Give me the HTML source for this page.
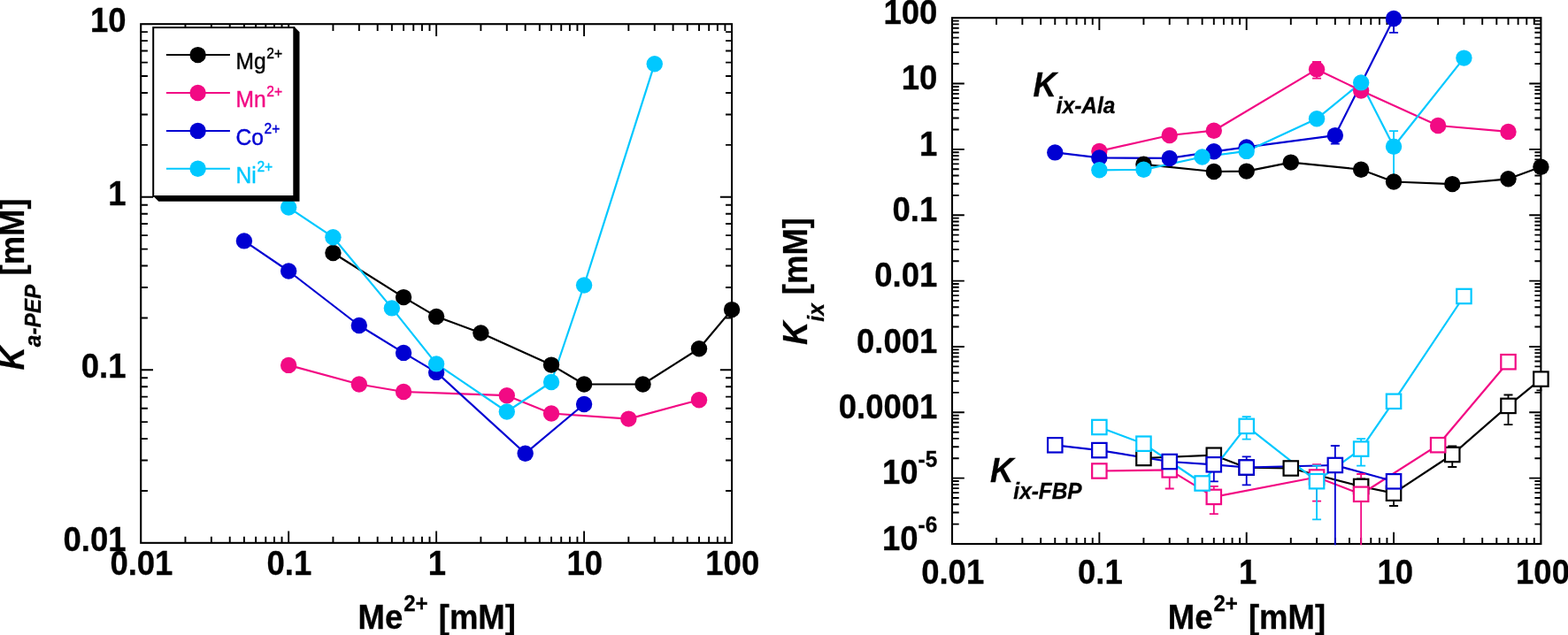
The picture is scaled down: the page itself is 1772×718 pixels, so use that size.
<!DOCTYPE html>
<html lang="en">
<head>
<meta charset="utf-8">
<title>Metal dependence of Ka-PEP and Kix</title>
<style>
html,body{margin:0;padding:0;background:#fff;}
body{width:1772px;height:718px;overflow:hidden;}
svg{display:block;}
text{font-family:"Liberation Sans",Arial,Helvetica,sans-serif;}
.tk{font-weight:bold;font-size:36.5px;fill:#000;stroke:#000;stroke-width:0.3px;}
.ss{font-weight:bold;font-size:24.4px;}
.ss2{font-weight:bold;font-size:24px;}
.bi{font-style:italic;}
.ssi{font-style:italic;font-size:24.4px;}
.lg{font-size:24.6px;stroke-width:0.4px;}
.lgs{font-size:15.6px;}
</style>
</head>
<body>
<svg width="1772" height="718" viewBox="0 0 1772 718">
<rect width="1772" height="718" fill="#fff"/>
<g id="plot1">
<path d="M209.46 613.85V606.85M209.46 27.2V35M238.86 613.85V606.85M238.86 27.2V35M259.72 613.85V606.85M259.72 27.2V35M275.9 613.85V606.85M275.9 27.2V35M289.12 613.85V606.85M289.12 27.2V35M300.3 613.85V606.85M300.3 27.2V35M309.98 613.85V606.85M309.98 27.2V35M318.52 613.85V606.85M318.52 27.2V35M326.16 613.85V600.55M326.16 27.2V41M376.42 613.85V606.85M376.42 27.2V35M405.82 613.85V606.85M405.82 27.2V35M426.68 613.85V606.85M426.68 27.2V35M442.86 613.85V606.85M442.86 27.2V35M456.08 613.85V606.85M456.08 27.2V35M467.26 613.85V606.85M467.26 27.2V35M476.94 613.85V606.85M476.94 27.2V35M485.49 613.85V606.85M485.49 27.2V35M493.12 613.85V600.55M493.12 27.2V41M543.39 613.85V606.85M543.39 27.2V35M572.79 613.85V606.85M572.79 27.2V35M593.65 613.85V606.85M593.65 27.2V35M609.83 613.85V606.85M609.83 27.2V35M623.05 613.85V606.85M623.05 27.2V35M634.22 613.85V606.85M634.22 27.2V35M643.91 613.85V606.85M643.91 27.2V35M652.45 613.85V606.85M652.45 27.2V35M660.09 613.85V600.55M660.09 27.2V41M710.35 613.85V606.85M710.35 27.2V35M739.75 613.85V606.85M739.75 27.2V35M760.61 613.85V606.85M760.61 27.2V35M776.79 613.85V606.85M776.79 27.2V35M790.01 613.85V606.85M790.01 27.2V35M801.19 613.85V606.85M801.19 27.2V35M810.87 613.85V606.85M810.87 27.2V35M819.41 613.85V606.85M819.41 27.2V35M159.2 554.98H166.9M827.05 554.98H820.05M159.2 520.55H166.9M827.05 520.55H820.05M159.2 496.12H166.9M827.05 496.12H820.05M159.2 477.17H166.9M827.05 477.17H820.05M159.2 461.68H166.9M827.05 461.68H820.05M159.2 448.59H166.9M827.05 448.59H820.05M159.2 437.25H166.9M827.05 437.25H820.05M159.2 427.25H166.9M827.05 427.25H820.05M159.2 418.3H173M827.05 418.3H813.85M159.2 359.43H166.9M827.05 359.43H820.05M159.2 325H166.9M827.05 325H820.05M159.2 300.57H166.9M827.05 300.57H820.05M159.2 281.62H166.9M827.05 281.62H820.05M159.2 266.13H166.9M827.05 266.13H820.05M159.2 253.04H166.9M827.05 253.04H820.05M159.2 241.7H166.9M827.05 241.7H820.05M159.2 231.7H166.9M827.05 231.7H820.05M159.2 222.75H173M827.05 222.75H813.85M159.2 163.88H166.9M827.05 163.88H820.05M159.2 129.45H166.9M827.05 129.45H820.05M159.2 105.02H166.9M827.05 105.02H820.05M159.2 86.07H166.9M827.05 86.07H820.05M159.2 70.58H166.9M827.05 70.58H820.05M159.2 57.49H166.9M827.05 57.49H820.05M159.2 46.15H166.9M827.05 46.15H820.05M159.2 36.15H166.9M827.05 36.15H820.05" fill="none" stroke="#000" stroke-width="1.9"/>
<rect x="159.2" y="27.2" width="667.85" height="586.65" fill="none" stroke="#000" stroke-width="2.1"/>
<polyline points="376.42,286 456.08,336.1 493.12,357.9 543.39,376.5 623.05,412.6 660.09,434.5 726.53,434.5 790.01,394.3 827.05,350.1" fill="none" stroke="#000000" stroke-width="2.2" stroke-linejoin="round"/>
<polyline points="326.16,412.9 405.82,434.5 456.08,443 572.79,447.2 623.05,467.5 710.35,473.6 790.01,452.2" fill="none" stroke="#F20A84" stroke-width="2.2" stroke-linejoin="round"/>
<polyline points="275.9,272.4 326.16,306.5 405.82,368 456.08,398.9 493.12,420.9 593.65,512.7 660.09,457" fill="none" stroke="#0000D2" stroke-width="2.2" stroke-linejoin="round"/>
<polyline points="326.16,234.6 376.42,268.2 442.86,348.4 493.12,411.4 572.79,465.5 623.05,432 660.09,322.5 739.75,72.2" fill="none" stroke="#00C8FF" stroke-width="2.2" stroke-linejoin="round"/>
<circle cx="376.42" cy="286" r="9.2" fill="#000000"/>
<circle cx="456.08" cy="336.1" r="9.2" fill="#000000"/>
<circle cx="493.12" cy="357.9" r="9.2" fill="#000000"/>
<circle cx="543.39" cy="376.5" r="9.2" fill="#000000"/>
<circle cx="623.05" cy="412.6" r="9.2" fill="#000000"/>
<circle cx="660.09" cy="434.5" r="9.2" fill="#000000"/>
<circle cx="726.53" cy="434.5" r="9.2" fill="#000000"/>
<circle cx="790.01" cy="394.3" r="9.2" fill="#000000"/>
<circle cx="827.05" cy="350.1" r="9.2" fill="#000000"/>
<circle cx="326.16" cy="412.9" r="9.2" fill="#F20A84"/>
<circle cx="405.82" cy="434.5" r="9.2" fill="#F20A84"/>
<circle cx="456.08" cy="443" r="9.2" fill="#F20A84"/>
<circle cx="572.79" cy="447.2" r="9.2" fill="#F20A84"/>
<circle cx="623.05" cy="467.5" r="9.2" fill="#F20A84"/>
<circle cx="710.35" cy="473.6" r="9.2" fill="#F20A84"/>
<circle cx="790.01" cy="452.2" r="9.2" fill="#F20A84"/>
<circle cx="275.9" cy="272.4" r="9.2" fill="#0000D2"/>
<circle cx="326.16" cy="306.5" r="9.2" fill="#0000D2"/>
<circle cx="405.82" cy="368" r="9.2" fill="#0000D2"/>
<circle cx="456.08" cy="398.9" r="9.2" fill="#0000D2"/>
<circle cx="493.12" cy="420.9" r="9.2" fill="#0000D2"/>
<circle cx="593.65" cy="512.7" r="9.2" fill="#0000D2"/>
<circle cx="660.09" cy="457" r="9.2" fill="#0000D2"/>
<circle cx="326.16" cy="234.6" r="9.2" fill="#00C8FF"/>
<circle cx="376.42" cy="268.2" r="9.2" fill="#00C8FF"/>
<circle cx="442.86" cy="348.4" r="9.2" fill="#00C8FF"/>
<circle cx="493.12" cy="411.4" r="9.2" fill="#00C8FF"/>
<circle cx="572.79" cy="465.5" r="9.2" fill="#00C8FF"/>
<circle cx="623.05" cy="432" r="9.2" fill="#00C8FF"/>
<circle cx="660.09" cy="322.5" r="9.2" fill="#00C8FF"/>
<circle cx="739.75" cy="72.2" r="9.2" fill="#00C8FF"/>
<path d="M332.3 30.1L338.5 36.2V227.7H179.2L173.2 221.8H332.3Z" fill="#000"/>
<rect x="173.2" y="31.1" width="159.1" height="190.9" fill="#fff" stroke="#000" stroke-width="2"/>
<path d="M187.9 62.1H259.9" stroke="#000000" stroke-width="2" fill="none"/>
<circle cx="223.6" cy="62.1" r="9.2" fill="#000000"/>
<text transform="translate(266.4 78.3) scale(1 1.04)" class="lg" fill="#000000" stroke="#000000">Mg<tspan dy="-12.21" dx="0.8" class="lgs">2+</tspan></text>
<path d="M187.9 105H259.9" stroke="#F20A84" stroke-width="2" fill="none"/>
<circle cx="223.6" cy="105" r="9.2" fill="#F20A84"/>
<text transform="translate(266.4 121.2) scale(1 1.04)" class="lg" fill="#F20A84" stroke="#F20A84">Mn<tspan dy="-12.21" dx="0.8" class="lgs">2+</tspan></text>
<path d="M187.9 147.9H259.9" stroke="#0000D2" stroke-width="2" fill="none"/>
<circle cx="223.6" cy="147.9" r="9.2" fill="#0000D2"/>
<text transform="translate(266.4 164.1) scale(1 1.04)" class="lg" fill="#0000D2" stroke="#0000D2">Co<tspan dy="-12.21" dx="0.8" class="lgs">2+</tspan></text>
<path d="M187.9 190.8H259.9" stroke="#00C8FF" stroke-width="2" fill="none"/>
<circle cx="223.6" cy="190.8" r="9.2" fill="#00C8FF"/>
<text transform="translate(266.4 207) scale(1 1.04)" class="lg" fill="#00C8FF" stroke="#00C8FF">Ni<tspan dy="-12.21" dx="0.8" class="lgs">2+</tspan></text>
<text transform="translate(142.5 36.2) scale(1 1.04)" class="tk" text-anchor="end">10</text>
<text transform="translate(142.5 231.75) scale(1 1.04)" class="tk" text-anchor="end">1</text>
<text transform="translate(142.5 427.3) scale(1 1.04)" class="tk" text-anchor="end">0.1</text>
<text transform="translate(142.5 622.85) scale(1 1.04)" class="tk" text-anchor="end">0.01</text>
<text transform="translate(159.9 650.2) scale(1 1.04)" class="tk" text-anchor="middle">0.01</text>
<text transform="translate(326.86 650.2) scale(1 1.04)" class="tk" text-anchor="middle">0.1</text>
<text transform="translate(493.82 650.2) scale(1 1.04)" class="tk" text-anchor="middle">1</text>
<text transform="translate(660.79 650.2) scale(1 1.04)" class="tk" text-anchor="middle">10</text>
<text transform="translate(827.75 650.2) scale(1 1.04)" class="tk" text-anchor="middle">100</text>
<text transform="translate(404.6 710.6) scale(1 1.04)" class="tk">Me<tspan dy="-19.13" dx="1" class="ss2">2+</tspan><tspan dy="19.13" dx="2"> [mM]</tspan></text>
<text transform="translate(27 418.5) rotate(-90) scale(1 1.04)" class="tk"><tspan class="bi">K</tspan><tspan dy="18.65" class="ssi">a-PEP</tspan><tspan dy="-18.65"> [mM]</tspan></text>
</g>
<g id="plot2">
<path d="M1126.08 615V608M1126.08 20.2V28M1155.37 615V608M1155.37 20.2V28M1176.15 615V608M1176.15 20.2V28M1192.27 615V608M1192.27 20.2V28M1205.45 615V608M1205.45 20.2V28M1216.58 615V608M1216.58 20.2V28M1226.23 615V608M1226.23 20.2V28M1234.74 615V608M1234.74 20.2V28M1242.35 615V601.7M1242.35 20.2V34M1292.43 615V608M1292.43 20.2V28M1321.72 615V608M1321.72 20.2V28M1342.5 615V608M1342.5 20.2V28M1358.62 615V608M1358.62 20.2V28M1371.8 615V608M1371.8 20.2V28M1382.93 615V608M1382.93 20.2V28M1392.58 615V608M1392.58 20.2V28M1401.09 615V608M1401.09 20.2V28M1408.7 615V601.7M1408.7 20.2V34M1458.78 615V608M1458.78 20.2V28M1488.07 615V608M1488.07 20.2V28M1508.85 615V608M1508.85 20.2V28M1524.97 615V608M1524.97 20.2V28M1538.15 615V608M1538.15 20.2V28M1549.28 615V608M1549.28 20.2V28M1558.93 615V608M1558.93 20.2V28M1567.44 615V608M1567.44 20.2V28M1575.05 615V601.7M1575.05 20.2V34M1625.13 615V608M1625.13 20.2V28M1654.42 615V608M1654.42 20.2V28M1675.2 615V608M1675.2 20.2V28M1691.32 615V608M1691.32 20.2V28M1704.5 615V608M1704.5 20.2V28M1715.63 615V608M1715.63 20.2V28M1725.28 615V608M1725.28 20.2V28M1733.79 615V608M1733.79 20.2V28M1076 592.62H1083.7M1741.4 592.62H1734.4M1076 579.53H1083.7M1741.4 579.53H1734.4M1076 570.24H1083.7M1741.4 570.24H1734.4M1076 563.03H1083.7M1741.4 563.03H1734.4M1076 557.14H1083.7M1741.4 557.14H1734.4M1076 552.17H1083.7M1741.4 552.17H1734.4M1076 547.86H1083.7M1741.4 547.86H1734.4M1076 544.05H1083.7M1741.4 544.05H1734.4M1076 540.65H1089.8M1741.4 540.65H1728.2M1076 518.27H1083.7M1741.4 518.27H1734.4M1076 505.18H1083.7M1741.4 505.18H1734.4M1076 495.89H1083.7M1741.4 495.89H1734.4M1076 488.68H1083.7M1741.4 488.68H1734.4M1076 482.79H1083.7M1741.4 482.79H1734.4M1076 477.82H1083.7M1741.4 477.82H1734.4M1076 473.51H1083.7M1741.4 473.51H1734.4M1076 469.7H1083.7M1741.4 469.7H1734.4M1076 466.3H1089.8M1741.4 466.3H1728.2M1076 443.92H1083.7M1741.4 443.92H1734.4M1076 430.83H1083.7M1741.4 430.83H1734.4M1076 421.54H1083.7M1741.4 421.54H1734.4M1076 414.33H1083.7M1741.4 414.33H1734.4M1076 408.44H1083.7M1741.4 408.44H1734.4M1076 403.47H1083.7M1741.4 403.47H1734.4M1076 399.16H1083.7M1741.4 399.16H1734.4M1076 395.35H1083.7M1741.4 395.35H1734.4M1076 391.95H1089.8M1741.4 391.95H1728.2M1076 369.57H1083.7M1741.4 369.57H1734.4M1076 356.48H1083.7M1741.4 356.48H1734.4M1076 347.19H1083.7M1741.4 347.19H1734.4M1076 339.98H1083.7M1741.4 339.98H1734.4M1076 334.09H1083.7M1741.4 334.09H1734.4M1076 329.12H1083.7M1741.4 329.12H1734.4M1076 324.81H1083.7M1741.4 324.81H1734.4M1076 321H1083.7M1741.4 321H1734.4M1076 317.6H1089.8M1741.4 317.6H1728.2M1076 295.22H1083.7M1741.4 295.22H1734.4M1076 282.13H1083.7M1741.4 282.13H1734.4M1076 272.84H1083.7M1741.4 272.84H1734.4M1076 265.63H1083.7M1741.4 265.63H1734.4M1076 259.74H1083.7M1741.4 259.74H1734.4M1076 254.77H1083.7M1741.4 254.77H1734.4M1076 250.46H1083.7M1741.4 250.46H1734.4M1076 246.65H1083.7M1741.4 246.65H1734.4M1076 243.25H1089.8M1741.4 243.25H1728.2M1076 220.87H1083.7M1741.4 220.87H1734.4M1076 207.78H1083.7M1741.4 207.78H1734.4M1076 198.49H1083.7M1741.4 198.49H1734.4M1076 191.28H1083.7M1741.4 191.28H1734.4M1076 185.39H1083.7M1741.4 185.39H1734.4M1076 180.42H1083.7M1741.4 180.42H1734.4M1076 176.11H1083.7M1741.4 176.11H1734.4M1076 172.3H1083.7M1741.4 172.3H1734.4M1076 168.9H1089.8M1741.4 168.9H1728.2M1076 146.52H1083.7M1741.4 146.52H1734.4M1076 133.43H1083.7M1741.4 133.43H1734.4M1076 124.14H1083.7M1741.4 124.14H1734.4M1076 116.93H1083.7M1741.4 116.93H1734.4M1076 111.04H1083.7M1741.4 111.04H1734.4M1076 106.07H1083.7M1741.4 106.07H1734.4M1076 101.76H1083.7M1741.4 101.76H1734.4M1076 97.95H1083.7M1741.4 97.95H1734.4M1076 94.55H1089.8M1741.4 94.55H1728.2M1076 72.17H1083.7M1741.4 72.17H1734.4M1076 59.08H1083.7M1741.4 59.08H1734.4M1076 49.79H1083.7M1741.4 49.79H1734.4M1076 42.58H1083.7M1741.4 42.58H1734.4M1076 36.69H1083.7M1741.4 36.69H1734.4M1076 31.72H1083.7M1741.4 31.72H1734.4M1076 27.41H1083.7M1741.4 27.41H1734.4M1076 23.6H1083.7M1741.4 23.6H1734.4" fill="none" stroke="#000" stroke-width="1.9"/>
<rect x="1076" y="20.2" width="665.4" height="594.8" fill="none" stroke="#000" stroke-width="2.1"/>
<polyline points="1292.43,185.8 1371.8,194 1408.7,193.6 1458.78,183.6 1538.15,191.7 1575.05,205.5 1641.25,208.1 1704.5,202.3 1741.4,188.8" fill="none" stroke="#000000" stroke-width="2.2" stroke-linejoin="round"/>
<polyline points="1242.35,170.9 1321.72,153 1371.8,147.7 1488.07,78.4 1538.15,102.5 1625.13,142 1704.5,148.9" fill="none" stroke="#F20A84" stroke-width="2.2" stroke-linejoin="round"/>
<polyline points="1192.27,172.4 1242.35,178.4 1321.72,178.9 1371.8,171.3 1408.7,166.4 1508.85,153.1 1575.05,21" fill="none" stroke="#0000D2" stroke-width="2.2" stroke-linejoin="round"/>
<polyline points="1242.35,192.3 1292.43,191.8 1358.62,177.5 1408.7,170.9 1488.07,134.3 1538.15,93.4 1575.05,165.8 1654.42,65.6" fill="none" stroke="#00C8FF" stroke-width="2.2" stroke-linejoin="round"/>
<polyline points="1292.43,518 1371.8,514.7 1408.7,528.7 1458.78,529.5 1538.15,550 1575.05,557.7 1641.25,514 1704.5,458.9 1741.4,428.6" fill="none" stroke="#000000" stroke-width="2.2" stroke-linejoin="round"/>
<polyline points="1242.35,532.5 1321.72,531.4 1371.8,561.9 1488.07,539.5 1538.15,558.8 1625.13,503.2 1704.5,409.2" fill="none" stroke="#F20A84" stroke-width="2.2" stroke-linejoin="round"/>
<polyline points="1192.27,503.3 1242.35,509.1 1321.72,522 1371.8,525.3 1408.7,528.5 1508.85,526 1575.05,544.3" fill="none" stroke="#0000D2" stroke-width="2.2" stroke-linejoin="round"/>
<polyline points="1242.35,483 1292.43,501.7 1358.62,546.5 1408.7,481.9 1488.07,544.2 1538.15,507.6 1575.05,453.8 1654.42,335" fill="none" stroke="#00C8FF" stroke-width="2.2" stroke-linejoin="round"/>
<path d="M1538.15 541.3V550M1533.15 541.3H1543.15" fill="none" stroke="#000000" stroke-width="1.8"/>
<path d="M1575.05 557.7V572M1570.05 572H1580.05" fill="none" stroke="#000000" stroke-width="1.8"/>
<path d="M1641.25 504.4V528M1636.25 504.4H1646.25M1636.25 528H1646.25" fill="none" stroke="#000000" stroke-width="1.8"/>
<path d="M1704.5 446.5V480.1M1699.5 446.5H1709.5M1699.5 480.1H1709.5" fill="none" stroke="#000000" stroke-width="1.8"/>
<path d="M1741.4 428.1V441.3M1736.4 441.3H1742.4" fill="none" stroke="#000000" stroke-width="1.8"/>
<path d="M1488.07 70V88.7M1483.07 70H1493.07M1483.07 88.7H1493.07" fill="none" stroke="#F20A84" stroke-width="1.8"/>
<path d="M1321.72 531.4V552.5M1316.72 552.5H1326.72" fill="none" stroke="#F20A84" stroke-width="1.8"/>
<path d="M1371.8 549.9V581.1M1366.8 549.9H1376.8M1366.8 581.1H1376.8" fill="none" stroke="#F20A84" stroke-width="1.8"/>
<path d="M1488.07 525.2V566.6M1483.07 525.2H1493.07M1483.07 566.6H1493.07" fill="none" stroke="#F20A84" stroke-width="1.8"/>
<path d="M1538.15 536V616.3M1533.15 536H1543.15" fill="none" stroke="#F20A84" stroke-width="1.8"/>
<path d="M1575.05 21V36.9M1570.05 36.9H1580.05" fill="none" stroke="#0000D2" stroke-width="1.8"/>
<path d="M1508.85 153.1V162.6M1503.85 162.6H1513.85" fill="none" stroke="#0000D2" stroke-width="1.8"/>
<path d="M1371.8 525.3V544.3M1366.8 544.3H1376.8" fill="none" stroke="#0000D2" stroke-width="1.8"/>
<path d="M1408.7 516.4V548.3M1403.7 516.4H1413.7M1403.7 548.3H1413.7" fill="none" stroke="#0000D2" stroke-width="1.8"/>
<path d="M1508.85 504V616.3M1503.85 504H1513.85" fill="none" stroke="#0000D2" stroke-width="1.8"/>
<path d="M1575.05 148.1V205M1570.05 148.1H1580.05" fill="none" stroke="#00C8FF" stroke-width="1.8"/>
<path d="M1408.7 471.2V496.6M1403.7 471.2H1413.7M1403.7 496.6H1413.7" fill="none" stroke="#00C8FF" stroke-width="1.8"/>
<path d="M1488.07 526.4V587.3M1483.07 526.4H1493.07M1483.07 587.3H1493.07" fill="none" stroke="#00C8FF" stroke-width="1.8"/>
<path d="M1538.15 496.2V526.6M1533.15 496.2H1543.15M1533.15 526.6H1543.15" fill="none" stroke="#00C8FF" stroke-width="1.8"/>
<circle cx="1292.43" cy="185.8" r="9.2" fill="#000000"/>
<circle cx="1371.8" cy="194" r="9.2" fill="#000000"/>
<circle cx="1408.7" cy="193.6" r="9.2" fill="#000000"/>
<circle cx="1458.78" cy="183.6" r="9.2" fill="#000000"/>
<circle cx="1538.15" cy="191.7" r="9.2" fill="#000000"/>
<circle cx="1575.05" cy="205.5" r="9.2" fill="#000000"/>
<circle cx="1641.25" cy="208.1" r="9.2" fill="#000000"/>
<circle cx="1704.5" cy="202.3" r="9.2" fill="#000000"/>
<circle cx="1741.4" cy="188.8" r="9.2" fill="#000000"/>
<circle cx="1242.35" cy="170.9" r="9.2" fill="#F20A84"/>
<circle cx="1321.72" cy="153" r="9.2" fill="#F20A84"/>
<circle cx="1371.8" cy="147.7" r="9.2" fill="#F20A84"/>
<circle cx="1488.07" cy="78.4" r="9.2" fill="#F20A84"/>
<circle cx="1538.15" cy="102.5" r="9.2" fill="#F20A84"/>
<circle cx="1625.13" cy="142" r="9.2" fill="#F20A84"/>
<circle cx="1704.5" cy="148.9" r="9.2" fill="#F20A84"/>
<circle cx="1192.27" cy="172.4" r="9.2" fill="#0000D2"/>
<circle cx="1242.35" cy="178.4" r="9.2" fill="#0000D2"/>
<circle cx="1321.72" cy="178.9" r="9.2" fill="#0000D2"/>
<circle cx="1371.8" cy="171.3" r="9.2" fill="#0000D2"/>
<circle cx="1408.7" cy="166.4" r="9.2" fill="#0000D2"/>
<circle cx="1508.85" cy="153.1" r="9.2" fill="#0000D2"/>
<circle cx="1575.05" cy="21" r="9.2" fill="#0000D2"/>
<circle cx="1242.35" cy="192.3" r="9.2" fill="#00C8FF"/>
<circle cx="1292.43" cy="191.8" r="9.2" fill="#00C8FF"/>
<circle cx="1358.62" cy="177.5" r="9.2" fill="#00C8FF"/>
<circle cx="1408.7" cy="170.9" r="9.2" fill="#00C8FF"/>
<circle cx="1488.07" cy="134.3" r="9.2" fill="#00C8FF"/>
<circle cx="1538.15" cy="93.4" r="9.2" fill="#00C8FF"/>
<circle cx="1575.05" cy="165.8" r="9.2" fill="#00C8FF"/>
<circle cx="1654.42" cy="65.6" r="9.2" fill="#00C8FF"/>
<rect x="1284.23" y="509.8" width="16.4" height="16.4" fill="#fff" stroke="#000000" stroke-width="2.2"/>
<rect x="1363.6" y="506.5" width="16.4" height="16.4" fill="#fff" stroke="#000000" stroke-width="2.2"/>
<rect x="1400.5" y="520.5" width="16.4" height="16.4" fill="#fff" stroke="#000000" stroke-width="2.2"/>
<rect x="1450.58" y="521.3" width="16.4" height="16.4" fill="#fff" stroke="#000000" stroke-width="2.2"/>
<rect x="1529.95" y="541.8" width="16.4" height="16.4" fill="#fff" stroke="#000000" stroke-width="2.2"/>
<rect x="1566.85" y="549.5" width="16.4" height="16.4" fill="#fff" stroke="#000000" stroke-width="2.2"/>
<rect x="1633.05" y="505.8" width="16.4" height="16.4" fill="#fff" stroke="#000000" stroke-width="2.2"/>
<rect x="1696.3" y="450.7" width="16.4" height="16.4" fill="#fff" stroke="#000000" stroke-width="2.2"/>
<rect x="1733.2" y="420.4" width="16.4" height="16.4" fill="#fff" stroke="#000000" stroke-width="2.2"/>
<rect x="1234.15" y="524.3" width="16.4" height="16.4" fill="#fff" stroke="#F20A84" stroke-width="2.2"/>
<rect x="1313.52" y="523.2" width="16.4" height="16.4" fill="#fff" stroke="#F20A84" stroke-width="2.2"/>
<rect x="1363.6" y="553.7" width="16.4" height="16.4" fill="#fff" stroke="#F20A84" stroke-width="2.2"/>
<rect x="1479.87" y="531.3" width="16.4" height="16.4" fill="#fff" stroke="#F20A84" stroke-width="2.2"/>
<rect x="1529.95" y="550.6" width="16.4" height="16.4" fill="#fff" stroke="#F20A84" stroke-width="2.2"/>
<rect x="1616.93" y="495" width="16.4" height="16.4" fill="#fff" stroke="#F20A84" stroke-width="2.2"/>
<rect x="1696.3" y="401" width="16.4" height="16.4" fill="#fff" stroke="#F20A84" stroke-width="2.2"/>
<rect x="1184.07" y="495.1" width="16.4" height="16.4" fill="#fff" stroke="#0000D2" stroke-width="2.2"/>
<rect x="1234.15" y="500.9" width="16.4" height="16.4" fill="#fff" stroke="#0000D2" stroke-width="2.2"/>
<rect x="1313.52" y="513.8" width="16.4" height="16.4" fill="#fff" stroke="#0000D2" stroke-width="2.2"/>
<rect x="1363.6" y="517.1" width="16.4" height="16.4" fill="#fff" stroke="#0000D2" stroke-width="2.2"/>
<rect x="1400.5" y="520.3" width="16.4" height="16.4" fill="#fff" stroke="#0000D2" stroke-width="2.2"/>
<rect x="1500.65" y="517.8" width="16.4" height="16.4" fill="#fff" stroke="#0000D2" stroke-width="2.2"/>
<rect x="1566.85" y="536.1" width="16.4" height="16.4" fill="#fff" stroke="#0000D2" stroke-width="2.2"/>
<rect x="1234.15" y="474.8" width="16.4" height="16.4" fill="#fff" stroke="#00C8FF" stroke-width="2.2"/>
<rect x="1284.23" y="493.5" width="16.4" height="16.4" fill="#fff" stroke="#00C8FF" stroke-width="2.2"/>
<rect x="1350.42" y="538.3" width="16.4" height="16.4" fill="#fff" stroke="#00C8FF" stroke-width="2.2"/>
<rect x="1400.5" y="473.7" width="16.4" height="16.4" fill="#fff" stroke="#00C8FF" stroke-width="2.2"/>
<rect x="1479.87" y="536" width="16.4" height="16.4" fill="#fff" stroke="#00C8FF" stroke-width="2.2"/>
<rect x="1529.95" y="499.4" width="16.4" height="16.4" fill="#fff" stroke="#00C8FF" stroke-width="2.2"/>
<rect x="1566.85" y="445.6" width="16.4" height="16.4" fill="#fff" stroke="#00C8FF" stroke-width="2.2"/>
<rect x="1646.22" y="326.8" width="16.4" height="16.4" fill="#fff" stroke="#00C8FF" stroke-width="2.2"/>
<text transform="translate(1059.3 26.8) scale(1 1.04)" class="tk" text-anchor="end">100</text>
<text transform="translate(1059.3 101.15) scale(1 1.04)" class="tk" text-anchor="end">10</text>
<text transform="translate(1059.3 175.5) scale(1 1.04)" class="tk" text-anchor="end">1</text>
<text transform="translate(1059.3 249.85) scale(1 1.04)" class="tk" text-anchor="end">0.1</text>
<text transform="translate(1059.3 324.2) scale(1 1.04)" class="tk" text-anchor="end">0.01</text>
<text transform="translate(1059.3 398.55) scale(1 1.04)" class="tk" text-anchor="end">0.001</text>
<text transform="translate(1059.3 472.9) scale(1 1.04)" class="tk" text-anchor="end">0.0001</text>
<text transform="translate(1059.3 547.25) scale(1 1.04)" class="tk" text-anchor="end">10<tspan dy="-18.46" class="ss">-5</tspan></text>
<text transform="translate(1059.3 621.6) scale(1 1.04)" class="tk" text-anchor="end">10<tspan dy="-18.46" class="ss">-6</tspan></text>
<text transform="translate(1076.7 660.2) scale(1 1.04)" class="tk" text-anchor="middle">0.01</text>
<text transform="translate(1243.4 660.2) scale(1 1.04)" class="tk" text-anchor="middle">0.1</text>
<text transform="translate(1410.1 660.2) scale(1 1.04)" class="tk" text-anchor="middle">1</text>
<text transform="translate(1576.8 660.2) scale(1 1.04)" class="tk" text-anchor="middle">10</text>
<text transform="translate(1743.5 660.2) scale(1 1.04)" class="tk" text-anchor="middle">100</text>
<text transform="translate(1319.8 710.6) scale(1 1.04)" class="tk">Me<tspan dy="-19.13" dx="1" class="ss2">2+</tspan><tspan dy="19.13" dx="2"> [mM]</tspan></text>
<text transform="translate(912 390) rotate(-90) scale(1 1.04)" class="tk"><tspan class="bi">K</tspan><tspan dy="18.65" class="ssi">ix</tspan><tspan dy="-18.65"> [mM]</tspan></text>
<text transform="translate(1167.5 108.9) scale(1 1.04)" class="tk"><tspan class="bi">K</tspan><tspan dy="18.65" class="ssi">ix-Ala</tspan></text>
<text transform="translate(1119 544.6) scale(1 1.04)" class="tk"><tspan class="bi">K</tspan><tspan dy="18.65" class="ssi">ix-FBP</tspan></text>
</g>
</svg>
</body>
</html>
